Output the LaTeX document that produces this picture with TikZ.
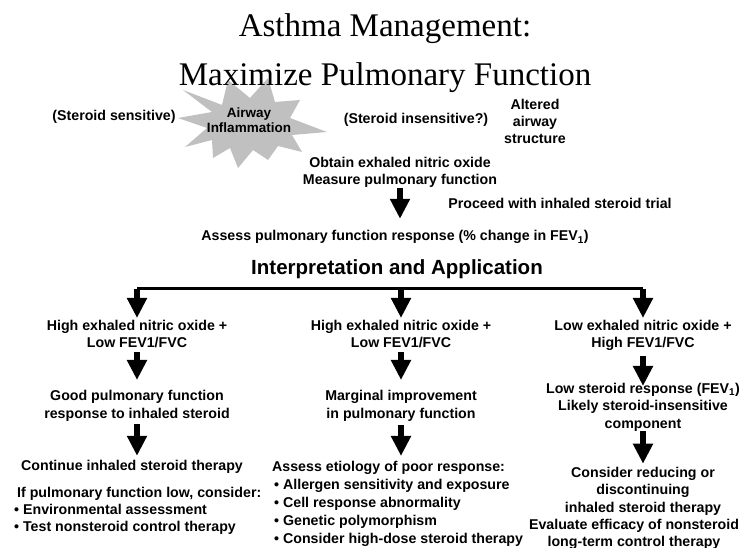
\documentclass[tikz,border=0pt]{standalone}
\usepackage{fontspec}
\setmainfont{Liberation Sans}
\newfontfamily\titlefont{Liberation Serif}
\usetikzlibrary{arrows.meta}
\definecolor{burst}{RGB}{192,192,192}
\tikzset{
  txt/.style={font=\fontsize{14.2}{17.5}\selectfont\bfseries, inner sep=0pt, align=center},
  small/.style={font=\fontsize{13.5}{15}\selectfont\bfseries, inner sep=0pt, align=center},
  big/.style={font=\fontsize{20.5}{24}\selectfont\bfseries, inner sep=0pt},
  ttl/.style={font=\titlefont\fontsize{33}{36}\selectfont, inner sep=0pt},
  fat/.style={line width=6pt, -{Triangle[width=19pt,length=20pt]}},
  barline/.style={line width=3pt},
}
\begin{document}
\begin{tikzpicture}[x=1pt,y=-1pt]
\useasboundingbox (0,0) rectangle (748,548);
\fill[white] (0,0) rectangle (748,548);

% starburst
\fill[burst] (183,90) -- (222,105) -- (228,80) -- (250,98) -- (268,78) -- (275,102)
  -- (300,100) -- (290,118) -- (327,132) -- (292,135) -- (302,152) -- (278,146)
  -- (268,160) -- (253,150) -- (238,168) -- (230,148) -- (213,158) -- (212,140)
  -- (185,147) -- (207,128) -- (178,118) -- (212,112) -- cycle;

% titles
\node[ttl, anchor=base] (t1) at (385,37) {Asthma Management:};
\node[ttl, anchor=base] (t2) at (385,86) {Maximize Pulmonary Function};

% upper labels
\node[txt, anchor=base] (sens) at (114,121) {(Steroid sensitive)};
\node[small, anchor=north] (infl) at (249,108) {Airway\\Inflammation};
\node[txt, anchor=base] (insens) at (416,124) {(Steroid insensitive?)};
\node[txt, anchor=north, font=\fontsize{14.2}{17}\selectfont\bfseries] (alt) at (535,99.5) {Altered\\airway\\structure};

\node[txt, anchor=north] (obtain) at (400,156.7) {Obtain exhaled nitric oxide\\Measure pulmonary function};
\node[txt, anchor=base] (proceed) at (560,209) {Proceed with inhaled steroid trial};
\node[txt, anchor=base] (assess) at (395,241) {Assess pulmonary function response (\% change in FEV\textsubscript{1})};
\node[big, anchor=base] (interp) at (397,275) {Interpretation and Application};

\draw[fat, shorten <=0.5pt, shorten >=11.7pt] (obtain.south) -- (obtain.south |- assess.north);

% bar
\coordinate (barL) at (137,289);
\coordinate (barM) at (401,289);
\coordinate (barR) at (643,289);
\draw[barline] (barL) -- (barR);

% left column
\node[txt, anchor=north] (L1) at (137,319.7) {High exhaled nitric oxide +\\Low FEV1/FVC};
\node[txt, anchor=north] (L2) at (137,390.2) {Good pulmonary function\\response to inhaled steroid};
\node[txt, anchor=base] (L3) at (132,470) {Continue inhaled steroid therapy};
\node[txt, anchor=north west, align=left, font=\fontsize{14.2}{17}\selectfont\bfseries] (L4) at (14,486.7)
  {\hspace*{3pt}If pulmonary function low, consider:\\• Environmental assessment\\• Test nonsteroid control therapy};

% middle column
\node[txt, anchor=north] (M1) at (401,319.7) {High exhaled nitric oxide +\\Low FEV1/FVC};
\node[txt, anchor=north] (M2) at (401,390.2) {Marginal improvement\\in pulmonary function};
\node[txt, anchor=north west, align=left, font=\fontsize{14.2}{18}\selectfont\bfseries] (M3) at (272,460.7)
  {Assess etiology of poor response:\\\hspace*{2pt}• Allergen sensitivity and exposure\\\hspace*{2pt}• Cell response abnormality\\\hspace*{2pt}• Genetic polymorphism\\\hspace*{2pt}• Consider high-dose steroid therapy};

% right column
\node[txt, anchor=north] (R1) at (643,319.7) {Low exhaled nitric oxide +\\High FEV1/FVC};
\node[txt, anchor=north] (R2) at (643,382.7) {Low steroid response (FEV\textsubscript{1})\\Likely steroid-insensitive\\component};
\node[txt, anchor=north] (R3) at (643,466.7) {Consider reducing or\\discontinuing\\inhaled steroid therapy};
\node[txt, anchor=north] (R4) at (634,518.7) {Evaluate efficacy of nonsteroid\\long-term control therapy};

% arrows
\draw[fat, shorten >=1.7pt] (barL) -- (barL |- L1.north);
\draw[fat, shorten >=1.7pt] (barM) -- (barM |- M1.north);
\draw[fat, shorten >=1.7pt] (barR) -- (barR |- R1.north);

\draw[fat, shorten <=4.3pt, shorten >=10.2pt] (L1.south) -- (L1.south |- L2.north);
\draw[fat, shorten <=3pt, shorten >=3.7pt] (L2.south) -- (L2.south |- L3.north);

\draw[fat, shorten <=4.3pt, shorten >=10.2pt] (M1.south) -- (M1.south |- M2.north);
\draw[fat, shorten <=4pt, shorten >=4.7pt] (M2.south) -- (M2.south |- M3.north);

\draw[fat, shorten <=5.3pt, shorten >=-3.3pt] (R1.south) -- (R1.south |- R2.north);
\draw[fat, shorten <=0pt, shorten >=3pt] (R2.south) -- (R2.south |- R3.north);
\end{tikzpicture}
\end{document}
